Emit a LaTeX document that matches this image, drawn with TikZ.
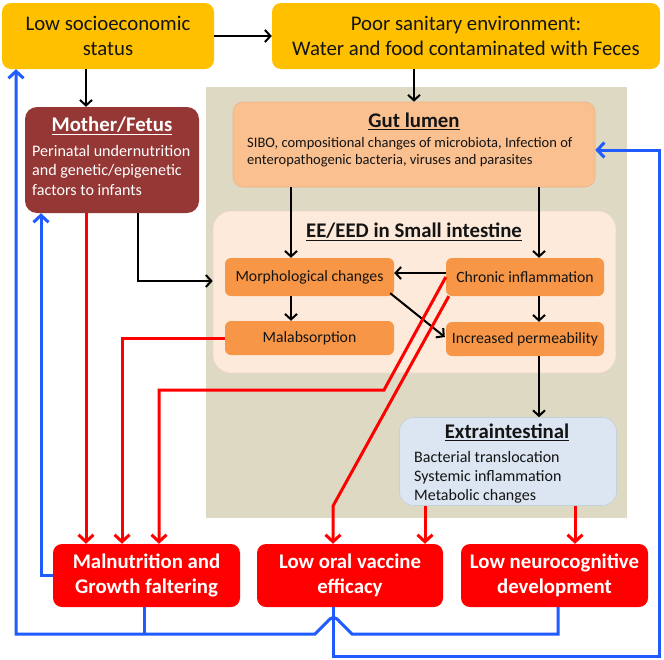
\documentclass[tikz,border=0pt]{standalone}
\usepackage{fontspec}
\setmainfont{Carlito}
\usetikzlibrary{arrows.meta}
\definecolor{ylw}{HTML}{FFC000}
\definecolor{mred}{HTML}{953735}
\definecolor{bgtan}{HTML}{DDD9C3}
\definecolor{gutc}{HTML}{FAC090}
\definecolor{gutb}{HTML}{EDB488}
\definecolor{eec}{HTML}{FDEADA}
\definecolor{eeb}{HTML}{EBD8C8}
\definecolor{orc}{HTML}{F79646}
\definecolor{exc}{HTML}{DCE6F2}
\definecolor{exb}{HTML}{C4CFDC}
\definecolor{rd}{HTML}{FF0000}
\definecolor{bl}{HTML}{1F5BFF}
\definecolor{txt}{HTML}{141414}
\begin{document}
\begin{tikzpicture}[x=1pt,y=-1pt,
  ybox/.style={fill=ylw, rounded corners=9pt, inner sep=0pt, align=center, text=txt,
    font=\fontsize{20.8}{25}\selectfont},
  obox/.style={fill=orc, rounded corners=6pt, inner sep=0pt, text=txt,
    minimum width=169pt, font=\fontsize{15.7}{18}\selectfont},
  rbox/.style={fill=rd, rounded corners=9pt, inner sep=0pt, align=center, text=white,
    minimum width=187pt, minimum height=63pt, font=\bfseries\fontsize{20.8}{25}\selectfont},
  ttl/.style={inner sep=0pt, font=\bfseries\fontsize{20.8}{24}\selectfont},
  blk/.style={draw=black, line width=2pt, -{Straight Barb[length=5.5pt,width=12pt]}},
  rarr/.style={draw=rd, line width=3pt, -{Straight Barb[length=7pt,width=15pt]}},
  barr/.style={draw=bl, line width=3pt, -{Straight Barb[length=7pt,width=15pt]}},
  bline/.style={draw=bl, line width=3pt}]
\useasboundingbox (0,0) rectangle (664,659);
% helper coordinates
\coordinate (x16) at (16,0);
\coordinate (x41) at (41,0);
\coordinate (x86) at (86,0);
\coordinate (x122) at (122,0);
\coordinate (x138) at (138,0);
\coordinate (x144) at (144,0);
\coordinate (x159) at (159,0);
\coordinate (x291) at (291,0);
\coordinate (x333) at (333,0);
\coordinate (x425) at (425,0);
\coordinate (x539) at (539,0);
\coordinate (x558) at (558,0);
\coordinate (x575) at (575,0);
\coordinate (x659) at (659,0);
\coordinate (y150) at (0,150);
\coordinate (y273) at (0,273);
\coordinate (y281) at (0,281);
\coordinate (y634) at (0,634);
\coordinate (y656) at (0,656);
\coordinate (r1) at (384,390);
\coordinate (r2) at (333,506);

% background panel
\node[fill=bgtan, inner sep=0pt, minimum width=421pt, minimum height=431pt, anchor=north west] (bg) at (206,87) {};

% top boxes
\node[ybox, minimum width=212pt, minimum height=66pt] (low) at (108,36) {Low socioeconomic\\status};
\node[ybox, minimum width=388pt, minimum height=66pt] (poor) at (466,36) {Poor sanitary environment:\\Water and food contaminated with Feces};

% mother
\node[fill=mred, rounded corners=12pt, minimum width=174pt, minimum height=106pt, inner sep=0pt] (mother) at (112,160) {};
\node[ttl, text=white] (mtitle) at (112,126) {\underline{Mother/Fetus}};
\node[anchor=north west, align=left, inner sep=0pt, text=white, font=\fontsize{16.1}{19.5}\selectfont] (mtext) at (32,145) {Perinatal undernutrition\\and genetic/epigenetic\\factors to infants};

% gut lumen
\node[fill=gutc, draw=gutb, line width=0.6pt, rounded corners=10pt, minimum width=362pt, minimum height=85pt, inner sep=0pt] (gut) at (414,144.5) {};
\node[ttl, text=txt] (gtitle) at (414,121) {\underline{Gut lumen}};
\node[anchor=north west, align=left, inner sep=0pt, text=txt, font=\fontsize{14.5}{17}\selectfont] (gtext) at (247,137.5) {SIBO, compositional changes of microbiota, Infection of\\enteropathogenic bacteria, viruses and parasites};

% EE/EED
\node[fill=eec, draw=eeb, line width=0.6pt, rounded corners=18pt, minimum width=403pt, minimum height=162pt, inner sep=0pt] (ee) at (414.5,292) {};
\node[ttl, text=txt] (etitle) at (414,232) {\underline{EE/EED in Small intestine}};
\node[obox, minimum height=38pt] (morph) at (309.5,277) {Morphological changes};
\node[obox, minimum height=38pt, minimum width=158pt] (chronic) at (525,277) {Chronic inflammation};
\node[obox, minimum height=34pt] (malab) at (309.5,338) {Malabsorption};
\node[obox, minimum height=34pt, minimum width=158pt] (incr) at (525,339) {Increased permeability};

% extraintestinal
\node[fill=exc, draw=exb, line width=0.6pt, rounded corners=14pt, minimum width=217pt, minimum height=88pt, inner sep=0pt] (extra) at (508,461.5) {};
\node[ttl, text=txt] (xtitle) at (507,432) {\underline{Extraintestinal}};
\node[anchor=north west, align=left, inner sep=0pt, text=txt, font=\fontsize{16}{19}\selectfont] (xtext) at (414,451) {Bacterial translocation\\Systemic inflammation\\Metabolic changes};

% outcomes
\node[rbox] (maln) at (146.5,575.5) {Malnutrition and\\Growth faltering};
\node[rbox, minimum width=186pt] (vacc) at (350,575.5) {Low oral vaccine\\efficacy};
\node[rbox] (neuro) at (554.5,575.5) {Low neurocognitive\\development};

% black connectors
\draw[blk] (low.east) -- (poor.west);
\draw[blk] (x86 |- low.south) -- (x86 |- mother.north);
\draw[blk] (gut.north |- poor.south) -- (gut.north);
\draw[blk] (x291 |- gut.south) -- (x291 |- morph.north);
\draw[blk] (x539 |- gut.south) -- (x539 |- chronic.north);
\draw[blk] (chronic.west |- y273) -- (morph.east |- y273);
\draw[blk] (x291 |- morph.south) -- (x291 |- malab.north);
\draw[blk] ([shift={(-4,-3)}]morph.south east) -- ([shift={(-1,-2)}]incr.west);
\draw[blk] (x539 |- chronic.south) -- (x539 |- incr.north);
\draw[blk] (x539 |- incr.south) -- (x539 |- extra.north);
\draw[blk] (x138 |- mother.south) |- (ee.west |- y281);

% red connectors
\draw[rarr] (x86 |- mother.south) -- (x86 |- maln.north);
\draw[rarr] (malab.west) -| (x122 |- maln.north);
\draw[rarr] (chronic.west) -- (r1) -| (x159 |- maln.north);
\draw[rarr] ([shift={(3,0)}]chronic.south west) -- (r2) -- (x333 |- vacc.north);
\draw[rarr] (x425 |- extra.south) -- (x425 |- vacc.north);
\draw[rarr] (x575 |- extra.south) -- (x575 |- neuro.north);

% blue connectors
\draw[barr] (maln.west) -| (x41 |- mother.south);
\draw[bline] (x144 |- maln.south) -- (x144 |- y634);
\draw[barr] (x558 |- neuro.south) -- (x558 |- y634) -- (352,634) -- (340,622)
  .. controls (335,616) and (332,616) .. (327,622) -- (315,634) -| (x16 |- low.south);
\draw[barr] (x333 |- vacc.south) |- (x659 |- y656) |- (gut.east |- y150);
\end{tikzpicture}
\end{document}
